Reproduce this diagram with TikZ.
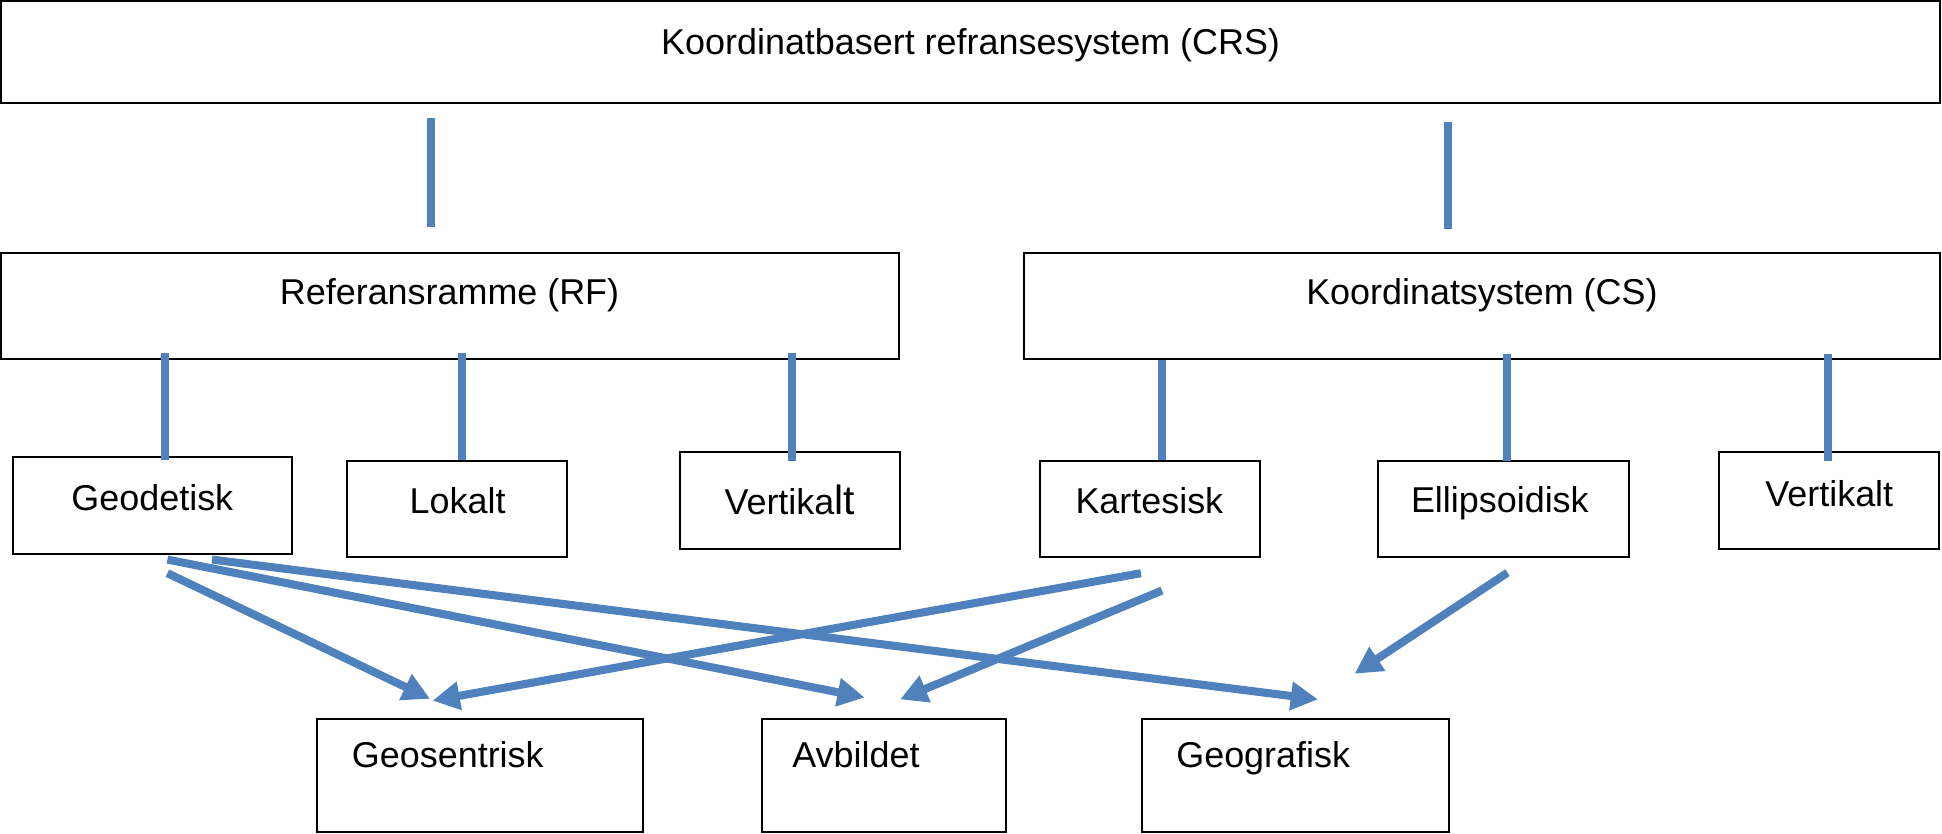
\documentclass[tikz,border=0pt]{standalone}
\usepackage{fontspec}
\setmainfont{Liberation Sans}
\usetikzlibrary{arrows.meta,calc}
\definecolor{lineblue}{RGB}{79,129,189}
\begin{document}
\begin{tikzpicture}[x=1pt,y=-1pt,
  box/.style={draw=black,line width=1.6pt,inner sep=0pt,rectangle},
  lbl/.style={inner sep=0pt,font=\fontsize{29}{34}\selectfont,anchor=base},
  lbll/.style={lbl,anchor=base west},
  conn/.style={draw=lineblue,line width=6.5pt,line cap=butt},
  arr/.style={draw=lineblue,line width=6.5pt,line cap=butt,
    -{Triangle[length=22pt,width=22pt]}}]
\useasboundingbox (0,0) rectangle (1568,672.6);
% boxes
\node[box,minimum width=1565pt,minimum height=82.2pt] (crs) at (783.5,41.9) {};
\node[box,minimum width=724.5pt,minimum height=86pt] (rf) at (363.25,247) {};
\node[box,minimum width=739pt,minimum height=86pt] (cs) at (1196.5,247) {};
\node[box,minimum width=225.2pt,minimum height=78.3pt] (geod) at (123.4,408.15) {};
\node[box,minimum width=177.8pt,minimum height=77.5pt] (lok) at (368.9,410.75) {};
\node[box,minimum width=178pt,minimum height=78pt] (vert1) at (638,404) {};
\node[box,minimum width=177.5pt,minimum height=77.5pt] (kart) at (928.25,410.75) {};
\node[box,minimum width=202.4pt,minimum height=78pt] (ell) at (1213.8,411) {};
\node[box,minimum width=178pt,minimum height=78pt] (vert2) at (1476.6,404) {};
\node[box,minimum width=263.2pt,minimum height=91pt] (geos) at (387.4,626) {};
\node[box,minimum width=197pt,minimum height=91pt] (avb) at (713.5,626) {};
\node[box,minimum width=248pt,minimum height=91pt] (geog) at (1046,626) {};
% texts
\node[lbl] (crsT) at (783.7,44.4) {Koordinatbasert refransesystem (CRS)};
\node[lbl] (rfT) at (363,246) {Referansramme (RF)};
\node[lbl] (csT) at (1196.5,246) {Koordinatsystem (CS)};
\node[lbl] (geodT) at (123,412) {Geodetisk};
\node[lbl] (lokT) at (369.5,415) {Lokalt};
\node[lbl] (vert1T) at (637.6,415.8) {Vertika{\fontsize{33}{38}\selectfont lt}};
\node[lbl] (kartT) at (928,414.5) {Kartesisk};
\node[lbl] (ellT) at (1211,414) {Ellipsoidisk};
\node[lbl] (vert2T) at (1477,408.6) {Vertikalt};
\node[lbll] (geosT) at (284,620) {Geosentrisk};
\node[lbll] (avbT) at (639.6,620) {Avbildet};
\node[lbll] (geogT) at (949.6,620) {Geografisk};
% vertical connectors
\draw[conn] ($(crs.south west)+(348,11.7)$) -- ($(rf.north west)+(348,-20.2)$);
\draw[conn] ($(crs.south west)+(1169,14.5)$) -- ($(cs.north west)+(343,-18)$);
\draw[conn] ($(rf.south west)+(133.3,-6)$) -- ($(geod.north west)+(123.5,3)$);
\draw[conn] ($(rf.south west)+(373,-6)$) -- ($(lok.north west)+(94,0)$);
\draw[conn] ($(rf.south west)+(639.2,-6)$) -- ($(vert1.north west)+(91.2,7.8)$);
\draw[conn] ($(cs.south west)+(112,0)$) -- ($(kart.north west)+(99.5,0)$);
\draw[conn] ($(cs.south west)+(390.6,-5)$) -- ($(ell.north west)+(105,0.8)$);
\draw[conn] ($(cs.south west)+(650,-5)$) -- ($(vert2.north west)+(89.4,7.8)$);
% arrows
\draw[arr] ($(geod.south west)+(125.2,14.7)$) -- ($(geos.north west)+(92.2,-15.5)$);
\draw[arr] ($(geod.south west)+(125.2,3.7)$) -- ($(avb.north west)+(84,-16.5)$);
\draw[arr] ($(geod.south west)+(161.2,3.7)$) -- ($(geog.north west)+(143,-15)$);
\draw[arr] ($(kart.south west)+(82.5,12.5)$) -- ($(geos.north west)+(94.2,-14)$);
\draw[arr] ($(kart.south west)+(99.5,26.5)$) -- ($(avb.north west)+(112.5,-15)$);
\draw[arr] ($(ell.south west)+(105.4,11.6)$) -- ($(geog.north west)+(172.5,-35.7)$);
\end{tikzpicture}
\end{document}
